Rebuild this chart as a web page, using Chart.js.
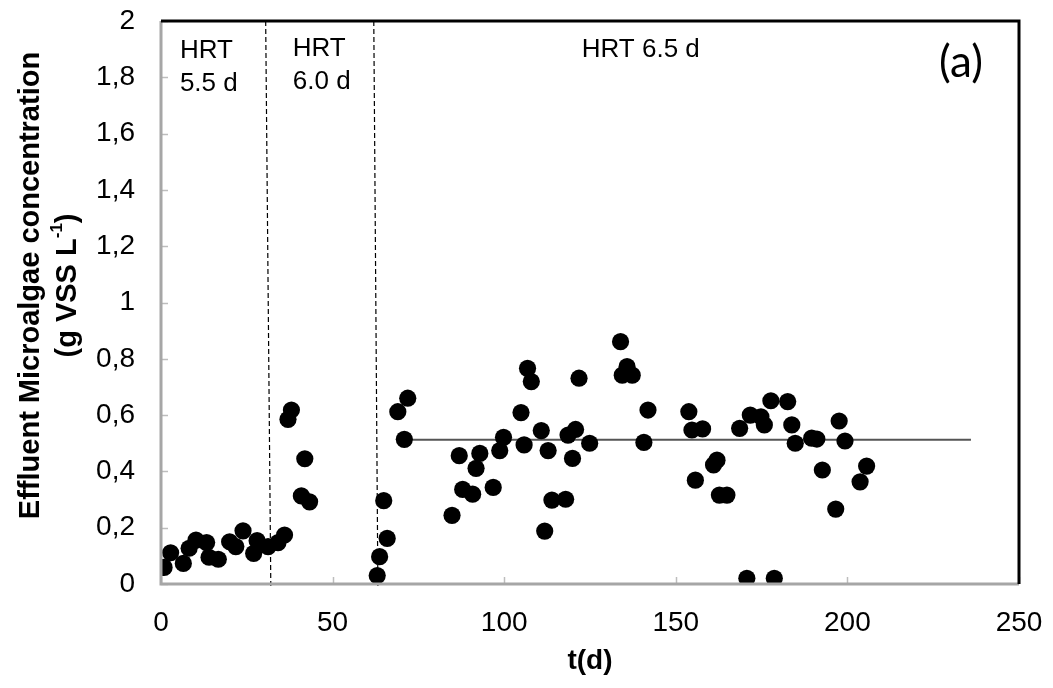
<!DOCTYPE html>
<html>
<head>
<meta charset="utf-8">
<script src="https://cdn.jsdelivr.net/npm/chart.js@4.4.1/dist/chart.umd.min.js"></script>
<style>
  html, body { margin: 0; padding: 0; background: #fff; }
  #wrap { width: 1053px; height: 688px; position: relative; }
</style>
</head>
<body>
<div id="wrap"><canvas id="c" width="1053" height="688"></canvas></div>
<script>
// ---- data ----
const tDays = [
  0.9, 2.8, 6.5, 8.2, 10.2, 13.3, 14.0, 16.7, 20.0, 21.8, 23.9, 27.0, 28.0, 31.2, 34.1, 36.0,
  37.0, 38.0, 40.9, 41.9, 43.3,
  63.0, 63.7, 64.9, 65.9, 69.0, 70.9, 71.9, 84.8, 86.9, 87.9, 90.8, 91.8, 92.9, 96.8, 98.7, 99.8,
  104.9, 105.8, 106.8, 107.9, 110.8, 111.8, 112.8, 113.9, 117.9, 118.6, 119.9, 120.8, 121.8, 124.9,
  133.9, 134.4, 135.8, 137.3, 140.7, 141.9, 153.8, 154.7, 155.7, 157.8, 161.0, 162.0, 162.7, 164.9,
  168.6, 170.7, 171.7, 174.8, 175.8, 177.7, 178.7, 182.6, 183.8, 184.8, 189.6, 191.1, 192.7,
  196.6, 197.6, 199.3, 203.7, 205.6
];
const vssConc = [
  0.059, 0.111, 0.073, 0.127, 0.156, 0.147, 0.095, 0.088, 0.150, 0.133, 0.189, 0.109, 0.154, 0.133, 0.147, 0.174,
  0.585, 0.618, 0.313, 0.445, 0.292,
  0.030, 0.097, 0.296, 0.162, 0.612, 0.514, 0.660, 0.244, 0.456, 0.336, 0.319, 0.411, 0.464, 0.343, 0.474, 0.521,
  0.609, 0.494, 0.766, 0.719, 0.545, 0.188, 0.474, 0.298, 0.301, 0.529, 0.446, 0.549, 0.731, 0.500,
  0.861, 0.742, 0.772, 0.742, 0.503, 0.618, 0.612, 0.547, 0.369, 0.551, 0.423, 0.440, 0.316, 0.316,
  0.553, 0.020, 0.600, 0.594, 0.565, 0.651, 0.020, 0.648, 0.565, 0.500, 0.518, 0.515, 0.405,
  0.266, 0.579, 0.508, 0.363, 0.419
];
// mean line for HRT 6.5 d period
const meanLineT = [71, 236];
const meanLineC = [0.512, 0.512];
// HRT change boundaries (dashed), top and bottom t values
const boundary1T = [30.5, 32.0];
const boundary2T = [62.0, 63.2];
const boundaryC = [2.0, -0.015];

const xTickValues = [0, 50, 100, 150, 200, 250];
const yTickLabels = ['0', '0,2', '0,4', '0,6', '0,8', '1', '1,2', '1,4', '1,6', '1,8', '2'];

const xTitle = 't(d)';
const yTitleLine1 = 'Effluent Microalgae concentration';
const yTitleLine2 = ['(g VSS L', '-1', ')'];
const phaseLabels = [['HRT', '5.5 d'], ['HRT', '6.0 d'], ['HRT 6.5 d']];
const panelLabel = '(a)';

// ---- chart ----
const FONT = '"Liberation Sans", Arial, sans-serif';
const pts = tDays.map((t, i) => ({ x: t, y: vssConc[i] }));
const mean = meanLineT.map((t, i) => ({ x: t, y: meanLineC[i] }));
const b1 = boundary1T.map((t, i) => ({ x: t, y: boundaryC[i] }));
const b2 = boundary2T.map((t, i) => ({ x: t, y: boundaryC[i] }));

const framePlugin = {
  id: 'frame',
  afterDatasetsDraw(chart) {
    const { ctx, chartArea: a, scales } = chart;
    const xs = scales.x, ys = scales.y;
    ctx.save();
    // inward ticks
    ctx.strokeStyle = '#bdbdbd';
    ctx.lineWidth = 1.5;
    xTickValues.forEach(v => {
      const px = Math.round(xs.getPixelForValue(v)) + 0.5;
      ctx.beginPath(); ctx.moveTo(px, a.bottom); ctx.lineTo(px, a.bottom - 7); ctx.stroke();
    });
    yTickLabels.forEach((l, i) => {
      const py = Math.round(ys.getPixelForValue(i * 0.2)) + 0.5;
      ctx.beginPath(); ctx.moveTo(a.left, py); ctx.lineTo(a.left + 7, py); ctx.stroke();
    });
    // left and bottom axis (grey)
    ctx.strokeStyle = '#a6a6a6';
    ctx.lineWidth = 3;
    ctx.beginPath();
    ctx.moveTo(a.left, a.top); ctx.lineTo(a.left, a.bottom); ctx.lineTo(a.right, a.bottom);
    ctx.stroke();
    // top and right border (black)
    ctx.strokeStyle = '#000';
    ctx.lineWidth = 3;
    ctx.beginPath();
    ctx.moveTo(a.left, a.top); ctx.lineTo(a.right, a.top); ctx.lineTo(a.right, a.bottom);
    ctx.stroke();

    // phase annotations
    ctx.fillStyle = '#000';
    ctx.textAlign = 'left';
    ctx.textBaseline = 'alphabetic';
    ctx.font = '26px ' + FONT;
    const p1x = xs.getPixelForValue(5.5);
    ctx.fillText(phaseLabels[0][0], p1x, a.top + 37);
    ctx.fillText(phaseLabels[0][1], p1x, a.top + 70);
    const p2x = xs.getPixelForValue(38.4);
    ctx.fillText(phaseLabels[1][0], p2x, a.top + 35);
    ctx.fillText(phaseLabels[1][1], p2x, a.top + 68);
    const p3x = xs.getPixelForValue(122.6);
    ctx.fillText(phaseLabels[2][0], p3x, a.top + 36);

    // panel label
    ctx.font = '44px Lato, "Open Sans", sans-serif';
    ctx.textAlign = 'center';
    ctx.textBaseline = 'middle';
    ctx.fillText(panelLabel, a.right - 58, a.top + 42);

    // y-axis title (two lines, rotated)
    const cy = (a.top + a.bottom) / 2 - 17;
    ctx.translate(31, cy);
    ctx.rotate(-Math.PI / 2);
    ctx.font = 'bold 29px ' + FONT;
    ctx.textAlign = 'center';
    ctx.textBaseline = 'middle';
    ctx.fillText(yTitleLine1, 0, 0);
    // second line with superscript
    const fMain = 'bold 29px ' + FONT, fSup = 'bold 17px ' + FONT;
    ctx.font = fMain; const w1 = ctx.measureText(yTitleLine2[0]).width;
    ctx.font = fSup; const w2 = ctx.measureText(yTitleLine2[1]).width;
    ctx.font = fMain; const w3 = ctx.measureText(yTitleLine2[2]).width;
    let x0 = -(w1 + w2 + w3) / 2;
    ctx.textAlign = 'left';
    ctx.font = fMain; ctx.fillText(yTitleLine2[0], x0, 37);
    ctx.font = fSup; ctx.fillText(yTitleLine2[1], x0 + w1, 37 - 11);
    ctx.font = fMain; ctx.fillText(yTitleLine2[2], x0 + w1 + w2, 37);
    ctx.restore();
  }
};

new Chart(document.getElementById('c'), {
  type: 'scatter',
  data: {
    datasets: [
      {
        type: 'line', data: b1, borderColor: '#000', borderWidth: 1.2, borderDash: [5, 3],
        pointRadius: 0, fill: false, clip: false, order: 3
      },
      {
        type: 'line', data: b2, borderColor: '#000', borderWidth: 1.2, borderDash: [5, 3],
        pointRadius: 0, fill: false, clip: false, order: 3
      },
      {
        type: 'line', data: mean, borderColor: '#555', borderWidth: 2,
        pointRadius: 0, fill: false, order: 2
      },
      {
        data: pts, backgroundColor: '#000', borderColor: '#000', borderWidth: 0,
        pointRadius: 8.6, pointHoverRadius: 8.6, order: 1
      }
    ]
  },
  options: {
    responsive: false,
    animation: false,
    devicePixelRatio: 1,
    layout: { padding: { top: 21, right: 34, left: 0, bottom: 0 } },
    plugins: { legend: { display: false }, tooltip: { enabled: false } },
    scales: {
      x: {
        type: 'linear', min: 0, max: 250,
        afterBuildTicks(s) { s.ticks = xTickValues.map(v => ({ value: v })); },
        afterFit(s) { s.height = 104; s.paddingLeft = 0; s.paddingRight = 0; },
        grid: { display: false, drawTicks: false },
        border: { display: false },
        ticks: { padding: 22, color: '#000', font: { family: FONT, size: 28 } },
        title: {
          display: true, text: xTitle, color: '#000', padding: { top: 0, bottom: 10 },
          font: { family: FONT, size: 28, weight: 'bold' }
        }
      },
      y: {
        type: 'linear', min: 0, max: 2,
        afterBuildTicks(s) { s.ticks = yTickLabels.map((l, i) => ({ value: i * 0.2 })); },
        afterFit(s) { s.width = 161; s.paddingTop = 0; s.paddingBottom = 0; },
        grid: { display: false, drawTicks: false },
        border: { display: false },
        ticks: {
          padding: 26, color: '#000', font: { family: FONT, size: 28 },
          callback: (v, i) => yTickLabels[i]
        }
      }
    }
  },
  plugins: [framePlugin]
});
</script>
</body>
</html>
